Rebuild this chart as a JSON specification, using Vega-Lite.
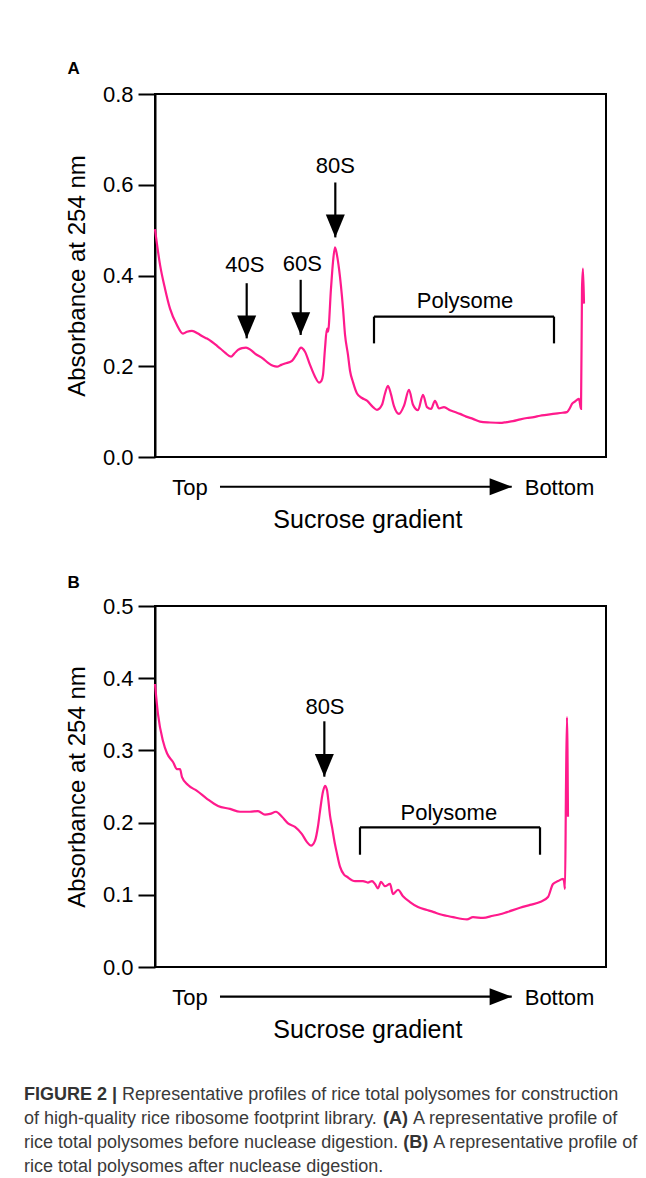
{
  "$schema": "https://vega.github.io/schema/vega-lite/v6.json",
  "background": "white",
  "padding": {"left": 24, "top": 59, "right": 0, "bottom": 5},
  "spacing": 39,
  "config": {
    "font": "Liberation Sans",
    "view": {"stroke": "black", "strokeWidth": 2},
    "axisY": {
      "grid": false, "tickSize": 17, "tickWidth": 2, "tickColor": "black",
      "domainColor": "black", "domainWidth": 2, "labelFontSize": 22, "labelColor": "black",
      "labelPadding": 5, "titleFontSize": 24, "titleFontWeight": "normal", "titleColor": "black",
      "titlePadding": 13, "format": ".1f"
    },
    "title": {"anchor": "start", "frame": "bounds", "fontSize": 17, "fontWeight": "bold", "color": "black", "offset": 5, "dx": 2}
  },
  "datasets": {
    "profileA": [
      {"pos":0,"abs":0.502},{"pos":1.11,"abs":0.424},{"pos":2.22,"abs":0.371},{"pos":3.33,"abs":0.327},{"pos":4.81,"abs":0.292},{"pos":6.21,"abs":0.272},{"pos":7.1,"abs":0.276},{"pos":8.2,"abs":0.278},{"pos":9.53,"abs":0.272},{"pos":10.5,"abs":0.266},{"pos":11.53,"abs":0.261},{"pos":12.6,"abs":0.254},{"pos":13.75,"abs":0.245},{"pos":14.6,"abs":0.238},{"pos":15.52,"abs":0.23},{"pos":16.85,"abs":0.221},{"pos":17.6,"abs":0.228},{"pos":18.4,"abs":0.236},{"pos":19.3,"abs":0.24},{"pos":20.18,"abs":0.241},{"pos":21.2,"abs":0.236},{"pos":22.17,"abs":0.228},{"pos":23.95,"abs":0.217},{"pos":25.0,"abs":0.208},{"pos":26.16,"abs":0.201},{"pos":27.05,"abs":0.199},{"pos":28.0,"abs":0.203},{"pos":28.82,"abs":0.206},{"pos":30.38,"abs":0.212},{"pos":31.49,"abs":0.228},{"pos":32.37,"abs":0.241},{"pos":33.26,"abs":0.232},{"pos":34.37,"abs":0.203},{"pos":35.48,"abs":0.177},{"pos":36.36,"abs":0.164},{"pos":36.9,"abs":0.168},{"pos":37.25,"abs":0.181},{"pos":37.69,"abs":0.239},{"pos":38.14,"abs":0.283},{"pos":38.36,"abs":0.276},{"pos":39.02,"abs":0.371},{"pos":39.47,"abs":0.43},{"pos":39.91,"abs":0.462},{"pos":40.35,"abs":0.445},{"pos":40.8,"abs":0.415},{"pos":41.69,"abs":0.327},{"pos":42.13,"abs":0.27},{"pos":42.79,"abs":0.225},{"pos":43.24,"abs":0.19},{"pos":43.9,"abs":0.165},{"pos":44.79,"abs":0.14},{"pos":45.9,"abs":0.13},{"pos":47.0,"abs":0.124},{"pos":48.34,"abs":0.11},{"pos":49.22,"abs":0.104},{"pos":50.33,"abs":0.115},{"pos":51.0,"abs":0.14},{"pos":51.66,"abs":0.157},{"pos":52.33,"abs":0.138},{"pos":52.99,"abs":0.112},{"pos":54.1,"abs":0.095},{"pos":55.21,"abs":0.113},{"pos":56.32,"abs":0.148},{"pos":57.21,"abs":0.115},{"pos":58.31,"abs":0.103},{"pos":59.42,"abs":0.137},{"pos":60.31,"abs":0.11},{"pos":61.2,"abs":0.106},{"pos":62.08,"abs":0.124},{"pos":62.97,"abs":0.107},{"pos":64.08,"abs":0.11},{"pos":65.41,"abs":0.103},{"pos":66.5,"abs":0.099},{"pos":67.63,"abs":0.095},{"pos":69.0,"abs":0.089},{"pos":70.51,"abs":0.084},{"pos":72.06,"abs":0.078},{"pos":74.28,"abs":0.076},{"pos":76.5,"abs":0.075},{"pos":78.0,"abs":0.077},{"pos":79.38,"abs":0.079},{"pos":81.0,"abs":0.083},{"pos":82.48,"abs":0.086},{"pos":84.0,"abs":0.088},{"pos":85.37,"abs":0.091},{"pos":86.8,"abs":0.093},{"pos":88.25,"abs":0.095},{"pos":89.8,"abs":0.097},{"pos":91.35,"abs":0.099},{"pos":92.0,"abs":0.108},{"pos":92.46,"abs":0.117},{"pos":93.1,"abs":0.122},{"pos":93.57,"abs":0.126},{"pos":94.01,"abs":0.128},{"pos":94.46,"abs":0.106},{"pos":94.68,"abs":0.371},{"pos":94.9,"abs":0.415},{"pos":95.12,"abs":0.338}
    ],
    "profileB": [
      {"pos":0,"abs":0.392},{"pos":0.67,"abs":0.35},{"pos":1.77,"abs":0.313},{"pos":2.66,"abs":0.296},{"pos":3.99,"abs":0.284},{"pos":4.88,"abs":0.274},{"pos":5.54,"abs":0.274},{"pos":5.99,"abs":0.263},{"pos":7.32,"abs":0.252},{"pos":9.31,"abs":0.244},{"pos":11.53,"abs":0.233},{"pos":13.97,"abs":0.223},{"pos":16.63,"abs":0.219},{"pos":18.85,"abs":0.215},{"pos":21.06,"abs":0.215},{"pos":22.84,"abs":0.216},{"pos":24.39,"abs":0.211},{"pos":25.5,"abs":0.212},{"pos":26.83,"abs":0.215},{"pos":28.16,"abs":0.208},{"pos":29.49,"abs":0.199},{"pos":31.04,"abs":0.194},{"pos":32.59,"abs":0.184},{"pos":33.7,"abs":0.173},{"pos":34.59,"abs":0.168},{"pos":35.48,"abs":0.175},{"pos":36.14,"abs":0.195},{"pos":36.59,"abs":0.216},{"pos":37.25,"abs":0.243},{"pos":37.69,"abs":0.251},{"pos":38.14,"abs":0.245},{"pos":38.36,"abs":0.235},{"pos":38.8,"abs":0.21},{"pos":39.25,"abs":0.194},{"pos":39.91,"abs":0.17},{"pos":40.35,"abs":0.157},{"pos":41.02,"abs":0.139},{"pos":41.91,"abs":0.128},{"pos":42.57,"abs":0.125},{"pos":44.35,"abs":0.119},{"pos":46.12,"abs":0.119},{"pos":47.2,"abs":0.117},{"pos":48.12,"abs":0.119},{"pos":48.78,"abs":0.115},{"pos":49.45,"abs":0.109},{"pos":50.11,"abs":0.118},{"pos":50.99,"abs":0.112},{"pos":52.11,"abs":0.115},{"pos":52.77,"abs":0.101},{"pos":53.88,"abs":0.107},{"pos":54.99,"abs":0.098},{"pos":56.54,"abs":0.09},{"pos":58.31,"abs":0.083},{"pos":60.31,"abs":0.079},{"pos":61.8,"abs":0.076},{"pos":63.19,"abs":0.073},{"pos":64.6,"abs":0.071},{"pos":66.08,"abs":0.069},{"pos":69.18,"abs":0.066},{"pos":70.51,"abs":0.069},{"pos":72.73,"abs":0.068},{"pos":74.94,"abs":0.071},{"pos":76.5,"abs":0.073},{"pos":78.05,"abs":0.076},{"pos":80.93,"abs":0.082},{"pos":83.15,"abs":0.086},{"pos":85.37,"abs":0.09},{"pos":87.14,"abs":0.097},{"pos":88.25,"abs":0.115},{"pos":89.36,"abs":0.119},{"pos":90.47,"abs":0.122},{"pos":90.69,"abs":0.119},{"pos":90.91,"abs":0.108},{"pos":91.13,"abs":0.25},{"pos":91.35,"abs":0.346},{"pos":91.57,"abs":0.208}
    ],
    "rulesA": [
      {"x":39.98,"x2":39.98,"y":0.605,"y2":0.484},
      {"x":20.33,"x2":20.33,"y":0.383,"y2":0.2615},
      {"x":32.3,"x2":32.3,"y":0.3905,"y2":0.269},
      {"x":48.56,"x2":88.47,"y":0.3094,"y2":0.3094},
      {"x":48.56,"x2":48.56,"y":0.3094,"y2":0.2504},
      {"x":88.47,"x2":88.47,"y":0.3094,"y2":0.2504},
      {"x":14.41,"x2":79.1,"y":-0.0656,"y2":-0.0656}
    ],
    "headsA": [
      {"x":39.98,"y":0.484,"dir":"down"},
      {"x":20.33,"y":0.2615,"dir":"down"},
      {"x":32.3,"y":0.269,"dir":"down"},
      {"x":79.1,"y":-0.0656,"dir":"right"}
    ],
    "notesA": [
      {"x":39.98,"y":0.642,"label":"80S","kind":"note"},
      {"x":19.9,"y":0.4225,"label":"40S","kind":"note"},
      {"x":32.66,"y":0.4247,"label":"60S","kind":"note"},
      {"x":68.74,"y":0.344,"label":"Polysome","kind":"note"},
      {"x":7.76,"y":-0.0678,"label":"Top","kind":"note"},
      {"x":89.7,"y":-0.0678,"label":"Bottom","kind":"note"},
      {"x":47.2,"y":-0.1386,"label":"Sucrose gradient","kind":"axis"}
    ],
    "rulesB": [
      {"x":37.55,"x2":37.55,"y":0.3403,"y2":0.2636},
      {"x":45.45,"x2":85.37,"y":0.1935,"y2":0.1935},
      {"x":45.45,"x2":45.45,"y":0.1935,"y2":0.1555},
      {"x":85.37,"x2":85.37,"y":0.1935,"y2":0.1555},
      {"x":14.41,"x2":79.1,"y":-0.0411,"y2":-0.0411}
    ],
    "headsB": [
      {"x":37.55,"y":0.2636,"dir":"down"},
      {"x":79.1,"y":-0.0411,"dir":"right"}
    ],
    "notesB": [
      {"x":37.69,"y":0.3604,"label":"80S","kind":"note"},
      {"x":65.15,"y":0.2129,"label":"Polysome","kind":"note"},
      {"x":7.76,"y":-0.0425,"label":"Top","kind":"note"},
      {"x":89.7,"y":-0.0425,"label":"Bottom","kind":"note"},
      {"x":47.2,"y":-0.0868,"label":"Sucrose gradient","kind":"axis"}
    ],
    "caption": [
      {"line":0.5,"x":0,"text":"FIGURE 2 |","bold":"yes"},
      {"line":0.5,"x":98.1,"text":"Representative profiles of rice total polysomes for construction","bold":"no"},
      {"line":1.5,"x":0,"text":"of high-quality rice ribosome footprint library.","bold":"no"},
      {"line":1.5,"x":359.1,"text":"(A)","bold":"yes"},
      {"line":1.5,"x":389.1,"text":"A representative profile of","bold":"no"},
      {"line":2.5,"x":0,"text":"rice total polysomes before nuclease digestion.","bold":"no"},
      {"line":2.5,"x":379.2,"text":"(B)","bold":"yes"},
      {"line":2.5,"x":409.2,"text":"A representative profile of","bold":"no"},
      {"line":3.5,"x":0,"text":"rice total polysomes after nuclease digestion.","bold":"no"}
    ]
  },
  "vconcat": [
    {
      "title": {"text": "A"},
      "width": 451,
      "height": 363,
      "layer": [
        {
          "data": {"name": "profileA"},
          "mark": {"type": "line", "color": "#ff1a8c", "strokeWidth": 2.2, "interpolate": "monotone"},
          "encoding": {
            "x": {"field": "pos", "type": "quantitative", "scale": {"domain": [0, 100], "nice": false, "zero": false}, "axis": null},
            "y": {"field": "abs", "type": "quantitative", "scale": {"domain": [0, 0.8], "nice": false}, "axis": {"title": "Absorbance at 254 nm", "values": [0, 0.2, 0.4, 0.6, 0.8]}}
          }
        },
        {
          "data": {"name": "rulesA"},
          "mark": {"type": "rule", "color": "black", "strokeWidth": 2.2},
          "encoding": {
            "x": {"field": "x", "type": "quantitative"},
            "x2": {"field": "x2"},
            "y": {"field": "y", "type": "quantitative"},
            "y2": {"field": "y2"}
          }
        },
        {
          "data": {"name": "headsA"},
          "transform": [{"filter": "datum.dir === 'down'"}],
          "mark": {"type": "point", "filled": true, "opacity": 1, "color": "black", "strokeWidth": 0, "size": 361, "shape": "M-1,-2.4L1,-2.4L0,0Z"},
          "encoding": {
            "x": {"field": "x", "type": "quantitative"},
            "y": {"field": "y", "type": "quantitative"}
          }
        },
        {
          "data": {"name": "headsA"},
          "transform": [{"filter": "datum.dir === 'right'"}],
          "mark": {"type": "point", "filled": true, "opacity": 1, "color": "black", "strokeWidth": 0, "size": 289, "shape": "M-2.6,-1L-2.6,1L0,0Z"},
          "encoding": {
            "x": {"field": "x", "type": "quantitative"},
            "y": {"field": "y", "type": "quantitative"}
          }
        },
        {
          "data": {"name": "notesA"},
          "transform": [{"filter": "datum.kind === 'note'"}],
          "mark": {"type": "text", "fontSize": 22, "color": "black", "align": "center", "baseline": "middle"},
          "encoding": {
            "x": {"field": "x", "type": "quantitative"},
            "y": {"field": "y", "type": "quantitative"},
            "text": {"field": "label"}
          }
        },
        {
          "data": {"name": "notesA"},
          "transform": [{"filter": "datum.kind === 'axis'"}],
          "mark": {"type": "text", "fontSize": 25, "color": "black", "align": "center", "baseline": "middle"},
          "encoding": {
            "x": {"field": "x", "type": "quantitative"},
            "y": {"field": "y", "type": "quantitative"},
            "text": {"field": "label"}
          }
        }
      ]
    },
    {
      "title": {"text": "B", "offset": 3},
      "width": 451,
      "height": 361,
      "layer": [
        {
          "data": {"name": "profileB"},
          "mark": {"type": "line", "color": "#ff1a8c", "strokeWidth": 2.2, "interpolate": "monotone"},
          "encoding": {
            "x": {"field": "pos", "type": "quantitative", "scale": {"domain": [0, 100], "nice": false, "zero": false}, "axis": null},
            "y": {"field": "abs", "type": "quantitative", "scale": {"domain": [0, 0.5], "nice": false}, "axis": {"title": "Absorbance at 254 nm", "values": [0, 0.1, 0.2, 0.3, 0.4, 0.5]}}
          }
        },
        {
          "data": {"name": "rulesB"},
          "mark": {"type": "rule", "color": "black", "strokeWidth": 2.2},
          "encoding": {
            "x": {"field": "x", "type": "quantitative"},
            "x2": {"field": "x2"},
            "y": {"field": "y", "type": "quantitative"},
            "y2": {"field": "y2"}
          }
        },
        {
          "data": {"name": "headsB"},
          "transform": [{"filter": "datum.dir === 'down'"}],
          "mark": {"type": "point", "filled": true, "opacity": 1, "color": "black", "strokeWidth": 0, "size": 361, "shape": "M-1,-2.4L1,-2.4L0,0Z"},
          "encoding": {
            "x": {"field": "x", "type": "quantitative"},
            "y": {"field": "y", "type": "quantitative"}
          }
        },
        {
          "data": {"name": "headsB"},
          "transform": [{"filter": "datum.dir === 'right'"}],
          "mark": {"type": "point", "filled": true, "opacity": 1, "color": "black", "strokeWidth": 0, "size": 289, "shape": "M-2.6,-1L-2.6,1L0,0Z"},
          "encoding": {
            "x": {"field": "x", "type": "quantitative"},
            "y": {"field": "y", "type": "quantitative"}
          }
        },
        {
          "data": {"name": "notesB"},
          "transform": [{"filter": "datum.kind === 'note'"}],
          "mark": {"type": "text", "fontSize": 22, "color": "black", "align": "center", "baseline": "middle"},
          "encoding": {
            "x": {"field": "x", "type": "quantitative"},
            "y": {"field": "y", "type": "quantitative"},
            "text": {"field": "label"}
          }
        },
        {
          "data": {"name": "notesB"},
          "transform": [{"filter": "datum.kind === 'axis'"}],
          "mark": {"type": "text", "fontSize": 25, "color": "black", "align": "center", "baseline": "middle"},
          "encoding": {
            "x": {"field": "x", "type": "quantitative"},
            "y": {"field": "y", "type": "quantitative"},
            "text": {"field": "label"}
          }
        }
      ]
    },
    {
      "width": 451,
      "height": 96,
      "view": {"stroke": null},
      "data": {"name": "caption"},
      "layer": [
        {
          "transform": [{"filter": "datum.bold === 'yes'"}],
          "mark": {"type": "text", "fontSize": 18, "fontWeight": "bold", "color": "#333333", "align": "left", "baseline": "middle"},
          "encoding": {
            "x": {"field": "x", "type": "quantitative", "scale": {"domain": [131, 582], "nice": false, "zero": false}, "axis": null},
            "y": {"field": "line", "type": "quantitative", "scale": {"domain": [0, 4], "reverse": true, "nice": false}, "axis": null},
            "text": {"field": "text"}
          }
        },
        {
          "transform": [{"filter": "datum.bold === 'no'"}],
          "mark": {"type": "text", "fontSize": 18, "color": "#3a3a3a", "align": "left", "baseline": "middle"},
          "encoding": {
            "x": {"field": "x", "type": "quantitative"},
            "y": {"field": "line", "type": "quantitative"},
            "text": {"field": "text"}
          }
        }
      ]
    }
  ]
}
